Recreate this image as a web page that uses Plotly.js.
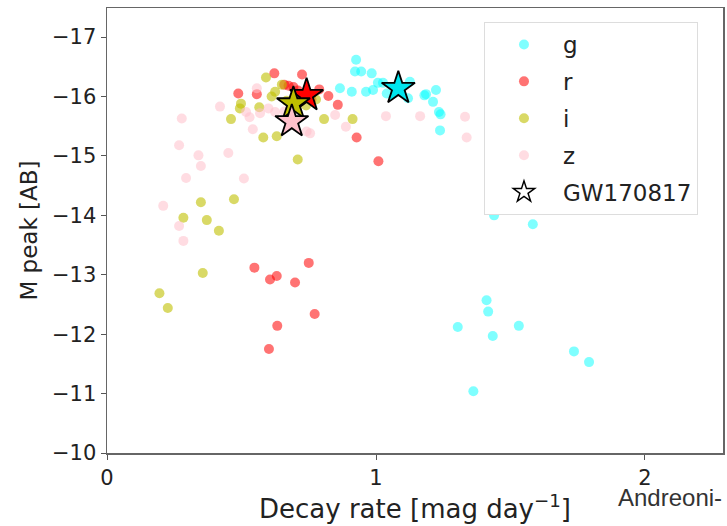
<!DOCTYPE html>
<html>
<head>
<meta charset="utf-8">
<script src="https://cdn.plot.ly/plotly-3.0.1.min.js"></script>
<style>html,body{margin:0;padding:0;background:#fff;}#chart{width:727px;height:526px;}</style>
</head>
<body>
<div id="chart"></div>
<script>
// g band
const gX = [0.926,0.922,0.945,0.984,0.866,0.910,0.963,0.989,1.007,1.040,1.026,1.126,1.119,1.186,1.180,1.223,1.212,1.234,1.240,1.238,1.439,1.583,1.411,1.417,1.304,1.434,1.531,1.736,1.792,1.362];
const gY = [-16.62,-16.42,-16.42,-16.39,-16.14,-16.08,-16.08,-16.11,-16.23,-16.05,-16.23,-16.25,-15.97,-16.04,-16.02,-16.11,-15.91,-15.74,-15.70,-15.43,-14.00,-13.85,-12.57,-12.38,-12.12,-11.97,-12.14,-11.71,-11.53,-11.04];
// r band
const rX = [0.548,0.606,0.631,0.699,0.750,0.772,0.633,0.602,0.622,0.725,0.488,0.557,0.659,0.675,0.693,0.710,0.789,0.823,0.858,0.928,1.009,0.760,0.720];
const rY = [-13.12,-12.92,-12.98,-12.87,-13.20,-12.34,-12.14,-11.75,-16.39,-16.37,-16.05,-16.04,-16.20,-16.18,-16.16,-16.10,-16.12,-16.01,-15.86,-15.31,-14.91,-15.95,-15.92];
// i band
const iX = [0.591,0.612,0.498,0.494,0.566,0.461,0.581,0.631,0.709,0.807,0.913,0.668,0.625,0.650,0.740,0.777,0.349,0.472,0.284,0.371,0.416,0.356,0.195,0.226];
const iY = [-16.32,-16.00,-15.88,-15.80,-15.82,-15.62,-15.31,-15.33,-14.94,-15.62,-15.62,-15.93,-16.08,-16.20,-15.85,-15.95,-14.22,-14.27,-13.96,-13.92,-13.74,-13.03,-12.69,-12.44];
// z band
const zX = [0.268,0.340,0.349,0.451,0.294,0.509,0.209,0.268,0.284,0.278,0.420,0.557,0.517,0.569,0.625,0.542,0.755,0.742,0.848,0.888,1.037,1.164,1.331,1.337,0.600,0.660,0.530];
const zY = [-15.18,-15.01,-14.83,-15.05,-14.63,-14.62,-14.16,-13.82,-13.57,-15.63,-15.83,-16.14,-15.74,-15.72,-15.74,-15.45,-15.38,-15.41,-15.69,-15.49,-15.67,-15.67,-15.66,-15.31,-15.80,-15.75,-15.65];
// GW170817 per band: g, r, i, z
const gwX = [1.083,0.742,0.693,0.687];
const gwY = [-16.14,-16.02,-15.88,-15.58];
const gwColors = ['#00e5ee','#ff0000','#bfbf00','#ffc0cb'];

const xTicks = [0,1,2];
const yTicks = [-17,-16,-15,-14,-13,-12,-11,-10];

const font = 'DejaVu Sans, sans-serif';
function band(x, y, name, color, op, group) {
  return {x:x, y:y, name:name, type:'scatter', mode:'markers', legendgroup:group,
    marker:{size:10, color:color, opacity:op, line:{width:0}}};
}
const traces = [
  band(gX, gY, 'g', '#00ffff', 0.5, 'a'),
  band(rX, rY, 'r', '#ff0000', 0.55, 'b'),
  band(iX, iY, 'i', '#bfbf00', 0.6, 'c'),
  band(zX, zY, 'z', '#ffc0cb', 0.55, 'd'),
  {x:gwX, y:gwY, type:'scatter', mode:'markers', showlegend:false,
   marker:{symbol:'star', size:25, color:gwColors, line:{color:'#000', width:1.8}}},
  {x:[null], y:[null], name:'GW170817', type:'scatter', mode:'markers', legendgroup:'e',
   marker:{symbol:'star', size:26, color:'#fff', line:{color:'#000', width:1.5}}}
];
const layout = {
  width:727, height:526,
  margin:{l:107, r:4, t:8, b:73},
  paper_bgcolor:'#fff', plot_bgcolor:'#fff',
  font:{family:font, color:'#222'},
  showlegend:true,
  legend:{x:0.612, y:0.9685, xanchor:'left', yanchor:'top', bgcolor:'#fff', bordercolor:'#ddd', borderwidth:1,
    font:{family:font, size:23, color:'#222'}, tracegroupgap:4, itemsizing:'trace', itemwidth:68},
  xaxis:{range:[0,2.29], tickvals:xTicks, ticktext:xTicks.map(String), ticks:'outside', ticklen:5, tickcolor:'#555',
    showgrid:false, zeroline:false, showline:true, linecolor:'#666', linewidth:1.5, mirror:true,
    tickfont:{size:21, family:font, color:'#222'},
    title:{text:'Decay rate [mag day<sup>−1</sup>]', font:{size:26, family:font, color:'#222'}, standoff:5}},
  yaxis:{range:[-10,-17.49], tickvals:yTicks, ticks:'outside', ticklen:5, tickcolor:'#555',
    showgrid:false, zeroline:false, showline:true, linecolor:'#666', linewidth:1.5, mirror:true,
    tickfont:{size:21, family:font, color:'#222'},
    title:{text:'M peak [AB]', font:{size:23, family:font, color:'#222'}, standoff:8}},
  annotations:[{text:'Andreoni-', xref:'paper', yref:'paper', x:0.826, y:-0.1, xanchor:'left', yanchor:'middle',
    showarrow:false, font:{family:'Liberation Sans, Arial, sans-serif', size:24, color:'#333'}}]
};
Plotly.newPlot('chart', traces, layout, {displayModeBar:false, staticPlot:true});
</script>
</body>
</html>
